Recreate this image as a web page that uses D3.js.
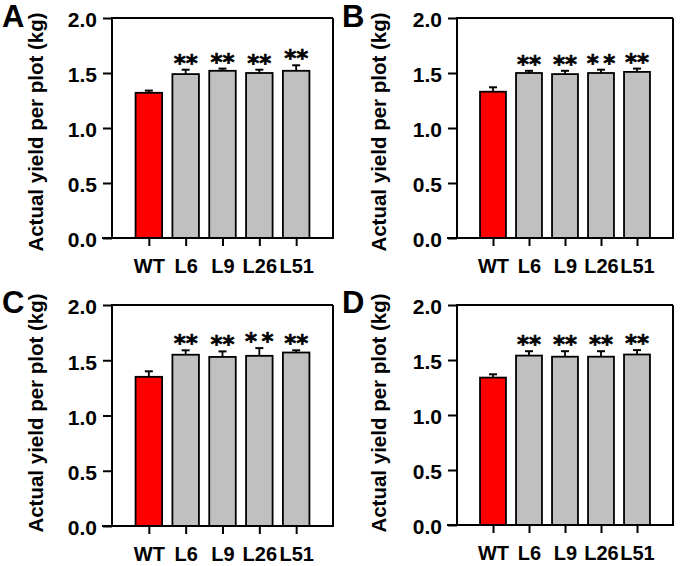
<!DOCTYPE html>
<html>
<head>
<meta charset="utf-8">
<script src="https://cdn.jsdelivr.net/npm/d3@7"></script>
<style>
  html, body { margin: 0; padding: 0; background: #fff; }
  svg { display: block; }
  text { font-family: "Liberation Sans", Arial, Helvetica, sans-serif; font-weight: bold; fill: #000; }
</style>
</head>
<body>
<svg id="chart" width="681" height="566"></svg>
<script>
// ---- data ----
const categories = ["WT", "L6", "L9", "L26", "L51"];
const panelLetters = ["A", "B", "C", "D"];
const yTicks = [0.0, 0.5, 1.0, 1.5, 2.0];
const yLabel = "Actual yield per plot (kg)";

const meansA = [1.32, 1.49, 1.52, 1.50, 1.52];
const errA   = [0.02, 0.04, 0.02, 0.03, 0.05];
const starsA = ["", "**", "**", "**", "**"];

const meansB = [1.33, 1.50, 1.49, 1.50, 1.51];
const errB   = [0.04, 0.02, 0.03, 0.03, 0.03];
const starsB = ["", "**", "**", "*\u2009*", "**"];

const meansC = [1.35, 1.55, 1.53, 1.54, 1.57];
const errC   = [0.05, 0.04, 0.05, 0.07, 0.02];
const starsC = ["", "**", "**", "*\u2009*", "**"];

const meansD = [1.34, 1.54, 1.53, 1.53, 1.55];
const errD   = [0.03, 0.04, 0.05, 0.05, 0.04];
const starsD = ["", "**", "**", "**", "**"];

const barColors = ["#ff0000", "#c0c0c0", "#c0c0c0", "#c0c0c0", "#c0c0c0"];

// ---- layout ----
const panels = [
  { letter: panelLetters[0], means: meansA, err: errA, stars: starsA, x0: 112, x1: 333, y0: 18,  y1: 238, lx: 2,   ly: 27,  labX: 43,  labY: 132 },
  { letter: panelLetters[1], means: meansB, err: errB, stars: starsB, x0: 457, x1: 673, y0: 18,  y1: 238, lx: 342, ly: 27,  labX: 386, labY: 132 },
  { letter: panelLetters[2], means: meansC, err: errC, stars: starsC, x0: 112, x1: 333, y0: 305, y1: 526, lx: 2,   ly: 313, labX: 43,  labY: 413 },
  { letter: panelLetters[3], means: meansD, err: errD, stars: starsD, x0: 457, x1: 673, y0: 305, y1: 525, lx: 342, ly: 313, labX: 386, labY: 413 }
];

const svg = d3.select("#chart");

panels.forEach(p => {
  const g = svg.append("g");
  const x = d3.scalePoint().domain(categories).range([p.x0, p.x1]).padding(1);
  const y = d3.scaleLinear().domain([0, 2]).range([p.y1, p.y0]);
  const bw = x.step() * 0.72;

  // bars
  g.selectAll("rect.bar").data(categories).join("rect")
    .attr("class", "bar")
    .attr("x", d => x(d) - bw / 2)
    .attr("width", bw)
    .attr("y", (d, i) => y(p.means[i]))
    .attr("height", (d, i) => y(0) - y(p.means[i]))
    .attr("fill", (d, i) => barColors[i])
    .attr("stroke", "#000")
    .attr("stroke-width", 1.8);

  // error bars (upper only)
  const cap = 8;
  g.selectAll("line.err").data(categories).join("line")
    .attr("class", "err")
    .attr("x1", d => x(d)).attr("x2", d => x(d))
    .attr("y1", (d, i) => y(p.means[i]))
    .attr("y2", (d, i) => y(p.means[i] + p.err[i]))
    .attr("stroke", "#000").attr("stroke-width", 1.8);
  g.selectAll("line.cap").data(categories).join("line")
    .attr("class", "cap")
    .attr("x1", d => x(d) - cap / 2).attr("x2", d => x(d) + cap / 2)
    .attr("y1", (d, i) => y(p.means[i] + p.err[i]))
    .attr("y2", (d, i) => y(p.means[i] + p.err[i]))
    .attr("stroke", "#000").attr("stroke-width", 2);

  // significance stars
  g.selectAll("text.star").data(categories).join("text")
    .attr("class", "star")
    .attr("x", d => x(d))
    .attr("y", (d, i) => y(p.means[i] + p.err[i]) + 1)
    .attr("text-anchor", "middle")
    .style("font-family", '"DejaVu Sans", sans-serif')
    .style("font-size", "23px")
    .style("stroke", "#000").style("stroke-width", 0.6)
    .text((d, i) => p.stars[i]);

  // frame (top & right)
  g.append("line").attr("x1", p.x0).attr("x2", p.x1).attr("y1", p.y0).attr("y2", p.y0)
    .attr("stroke", "#000").attr("stroke-width", 2);
  g.append("line").attr("x1", p.x1).attr("x2", p.x1).attr("y1", p.y0).attr("y2", p.y1)
    .attr("stroke", "#000").attr("stroke-width", 2);

  // y axis
  const yAxis = d3.axisLeft(y).tickValues(yTicks).tickFormat(d3.format(".1f")).tickSize(9).tickPadding(6);
  const ya = g.append("g").attr("transform", `translate(${p.x0},0)`).call(yAxis);
  ya.select(".domain").attr("stroke", "#000").attr("stroke-width", 2)
    .attr("d", `M0,${p.y0 - 1}V${p.y1 + 1}`);
  ya.selectAll(".tick line").attr("stroke", "#000").attr("stroke-width", 2);
  ya.selectAll(".tick text").style("font-size", "21px").attr("dy", "0.42em")
    .style("font-family", '"Liberation Sans", Arial, sans-serif').style("font-weight", "bold");

  // x axis
  const xAxis = d3.axisBottom(x).tickSize(8).tickPadding(13);
  const xa = g.append("g").attr("transform", `translate(0,${p.y1})`).call(xAxis);
  xa.select(".domain").attr("stroke", "#000").attr("stroke-width", 2)
    .attr("d", `M${p.x0 - 10},0H${p.x1 + 1}`);
  xa.selectAll(".tick line").attr("stroke", "#000").attr("stroke-width", 2);
  xa.selectAll(".tick text").style("font-size", "20px")
    .style("font-family", '"Liberation Sans", Arial, sans-serif').style("font-weight", "bold");

  // y label
  g.append("text")
    .attr("transform", `translate(${p.labX},${p.labY}) rotate(-90)`)
    .attr("text-anchor", "middle")
    .style("font-size", "20.5px")
    .text(yLabel);

  // panel letter
  g.append("text")
    .attr("x", p.lx).attr("y", p.ly)
    .style("font-size", "31px")
    .text(p.letter);
});
</script>
</body>
</html>
